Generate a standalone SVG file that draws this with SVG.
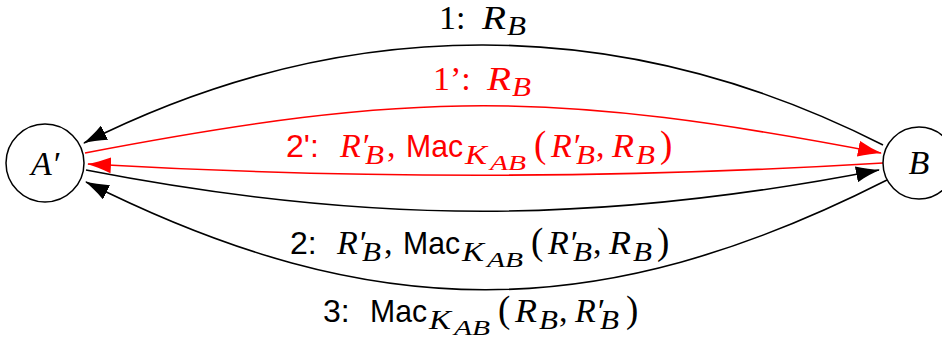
<svg xmlns="http://www.w3.org/2000/svg" width="942" height="342" viewBox="0 0 942 342">
<style>
text{font-size:34px;font-family:"Liberation Serif",serif}
.rm{font-family:"Liberation Serif",serif;font-style:normal}
.mi{font-family:"Liberation Serif",serif;font-style:italic;font-size:34px}
.sf{font-family:"Liberation Sans",sans-serif;font-style:normal;font-size:32px}
.sub{font-size:27px}
.ks{font-size:27px}
.ss{font-size:22px}
.par{font-size:37px}
.blk{fill:#000}
.red{fill:#ff0000}
.node{fill:#fff;stroke:#000;stroke-width:1.5}
.e{fill:none;stroke-width:1.6}
.eb{stroke:#000}
.er{stroke:#ff0000}
</style>
<defs>
<marker id="ahb" viewBox="0 0 24 16" refX="23" refY="8" markerWidth="24" markerHeight="16" orient="auto" markerUnits="userSpaceOnUse"><path d="M24,8 C17,9.5 8,12.5 0,16 L0,0 C8,3.5 17,6.5 24,8 z" fill="#000"/></marker>
<marker id="ahr" viewBox="0 0 24 16" refX="23" refY="8" markerWidth="24" markerHeight="16" orient="auto" markerUnits="userSpaceOnUse"><path d="M24,8 C17,9.5 8,12.5 0,16 L0,0 C8,3.5 17,6.5 24,8 z" fill="#ff0000"/></marker>
</defs>
<g id="connectors">
<g id="edge1">
<path class="e eb" d="M883,145 C621,12 345,12 84,143" marker-end="url(#ahb)"/>
<text class="blk" y="29"><tspan class="rm" x="439">1:</tspan><tspan class="mi" x="482" textLength="24" lengthAdjust="spacingAndGlyphs">R</tspan><tspan class="mi sub" x="507" y="35" textLength="19" lengthAdjust="spacingAndGlyphs">B</tspan></text>
</g>
<g id="edge1p">
<path class="e er" d="M85,153 C415,90 552,90 881,153" marker-end="url(#ahr)"/>
<text class="red" y="90"><tspan class="rm" x="433">1’:</tspan><tspan class="mi" x="487" textLength="24" lengthAdjust="spacingAndGlyphs">R</tspan><tspan class="mi sub" x="512" y="96" textLength="19" lengthAdjust="spacingAndGlyphs">B</tspan></text>
</g>
<g id="edge2p">
<path class="e er" d="M883,163 C620,179 350,179 88,164" marker-end="url(#ahr)"/>
<text class="red" y="157"><tspan class="sf" x="286">2':</tspan><tspan class="mi" x="340">R′</tspan><tspan class="mi sub" x="365" y="164" textLength="19" lengthAdjust="spacingAndGlyphs">B</tspan><tspan class="rm" x="387" y="157">,</tspan><tspan class="sf" x="406" textLength="57" lengthAdjust="spacingAndGlyphs">Mac</tspan><tspan class="mi ks" x="465" y="164" textLength="22" lengthAdjust="spacingAndGlyphs">K</tspan><tspan class="mi ss" x="490" y="170" textLength="36" lengthAdjust="spacingAndGlyphs">AB</tspan><tspan class="rm par" x="534" y="157">(</tspan><tspan class="mi" x="551">R′</tspan><tspan class="mi sub" x="576" y="164" textLength="19" lengthAdjust="spacingAndGlyphs">B</tspan><tspan class="rm" x="596" y="157">,</tspan><tspan class="mi" x="612" textLength="22" lengthAdjust="spacingAndGlyphs">R</tspan><tspan class="mi sub" x="636" y="164" textLength="19" lengthAdjust="spacingAndGlyphs">B</tspan><tspan class="rm par" x="660" y="157">)</tspan></text>
</g>
<g id="edge2">
<path class="e eb" d="M86,170 C369,225 597,225 879,170" marker-end="url(#ahb)"/>
<text class="blk" y="254"><tspan class="sf" x="290">2:</tspan><tspan class="mi" x="337">R′</tspan><tspan class="mi sub" x="362" y="261" textLength="19" lengthAdjust="spacingAndGlyphs">B</tspan><tspan class="rm" x="384" y="254">,</tspan><tspan class="sf" x="403" textLength="57" lengthAdjust="spacingAndGlyphs">Mac</tspan><tspan class="mi ks" x="462" y="261" textLength="22" lengthAdjust="spacingAndGlyphs">K</tspan><tspan class="mi ss" x="487" y="267" textLength="36" lengthAdjust="spacingAndGlyphs">AB</tspan><tspan class="rm par" x="531" y="254">(</tspan><tspan class="mi" x="548">R′</tspan><tspan class="mi sub" x="573" y="261" textLength="19" lengthAdjust="spacingAndGlyphs">B</tspan><tspan class="rm" x="593" y="254">,</tspan><tspan class="mi" x="609" textLength="22" lengthAdjust="spacingAndGlyphs">R</tspan><tspan class="mi sub" x="633" y="261" textLength="19" lengthAdjust="spacingAndGlyphs">B</tspan><tspan class="rm par" x="657" y="254">)</tspan></text>
</g>
<g id="edge3">
<path class="e eb" d="M887,180 C599,326 373,326 86,182" marker-end="url(#ahb)"/>
<text class="blk" y="322"><tspan class="sf" x="323">3:</tspan><tspan class="sf" x="370" textLength="57" lengthAdjust="spacingAndGlyphs">Mac</tspan><tspan class="mi ks" x="429" y="329" textLength="22" lengthAdjust="spacingAndGlyphs">K</tspan><tspan class="mi ss" x="454" y="335" textLength="36" lengthAdjust="spacingAndGlyphs">AB</tspan><tspan class="rm par" x="498" y="322">(</tspan><tspan class="mi" x="515" textLength="22" lengthAdjust="spacingAndGlyphs">R</tspan><tspan class="mi sub" x="539" y="329" textLength="19" lengthAdjust="spacingAndGlyphs">B</tspan><tspan class="rm" x="559" y="322">,</tspan><tspan class="mi" x="575">R′</tspan><tspan class="mi sub" x="600" y="329" textLength="19" lengthAdjust="spacingAndGlyphs">B</tspan><tspan class="rm par" x="626" y="322">)</tspan></text>
</g>
</g>
<g id="nodeA">
<circle class="node" cx="45" cy="163" r="39"/>
<text class="mi blk" x="45" y="175" text-anchor="middle">A′</text>
</g>
<g id="nodeB">
<circle class="node" cx="919" cy="163" r="36"/>
<text class="mi blk" x="919" y="174" text-anchor="middle">B</text>
</g>
</svg>
